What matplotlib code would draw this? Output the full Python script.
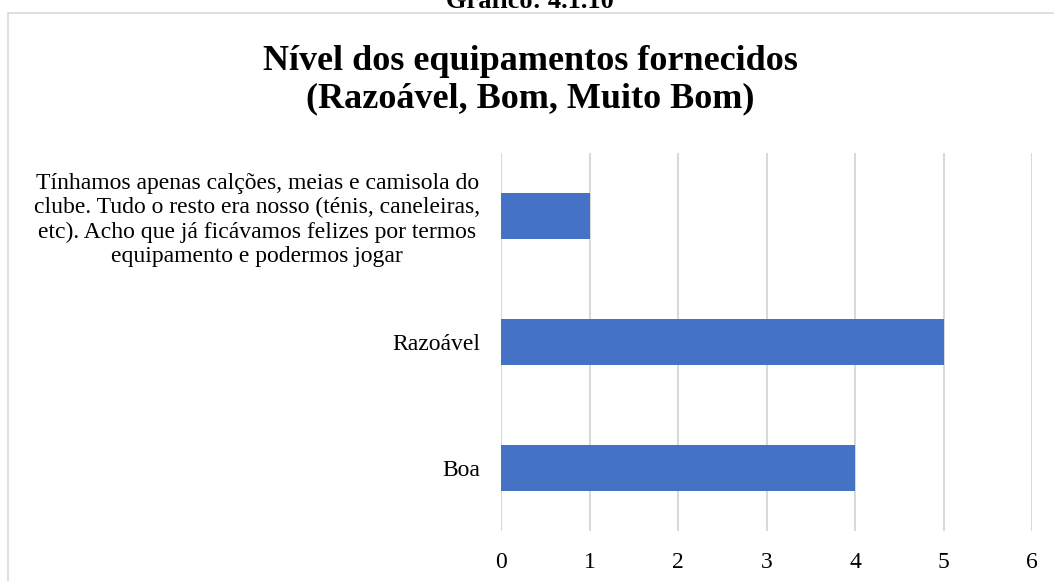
import matplotlib.pyplot as plt
from matplotlib.patches import Rectangle

plt.rcParams['font.family'] = ['Liberation Serif', 'DejaVu Serif']

# data (bottom to top)
categories = ["Boa", "Razoável",
              "Tínhamos apenas calções, meias e camisola do\n"
              "clube. Tudo o resto era nosso (ténis, caneleiras,\n"
              "etc). Acho que já ficávamos felizes por termos\n"
              "equipamento e podermos jogar"]
values = [4, 5, 1]
xticks = [0, 1, 2, 3, 4, 5, 6]

fig = plt.figure(figsize=(10.54, 5.81), dpi=100)
ax = fig.add_axes([501/1054, 1 - 531/581, (1032 - 501)/1054, (531 - 153)/581])

pos = range(len(categories))
ax.barh(pos, values, height=0.36, color="#4472C4", zorder=3)
ax.set_ylim(-0.5, len(categories) - 0.5)
ax.set_xlim(0, 6)
ax.set_xticks(xticks)
ax.set_yticks(list(pos))
ax.set_yticklabels(categories, multialignment='center', linespacing=1.2)
ax.tick_params(axis='both', length=0, labelsize=17, colors='#000000')
ax.tick_params(axis='y', pad=15)
ax.tick_params(axis='x', pad=15)
ax.grid(axis='x', color='#d9d9d9', linewidth=1.5, zorder=0)
for s in ax.spines.values():
    s.set_visible(False)

# title
fig.text(0.503, 1 - 80/581, "Nível dos equipamentos fornecidos\n(Razoável, Bom, Muito Bom)",
         ha='center', va='center', fontsize=26, fontweight='bold', linespacing=1.2)
fig.text(0.503, 1 - 8/581, "Gráfico: 4.1.10", ha='center', va='baseline',
         fontsize=19, fontweight='bold')

# chart border
fig.add_artist(Rectangle((8/1054, -0.1), 1.2, 1.1 - 13/581, transform=fig.transFigure,
                         fill=False, edgecolor='#d9d9d9', linewidth=1.2))

fig.savefig("out.png", dpi=100)
